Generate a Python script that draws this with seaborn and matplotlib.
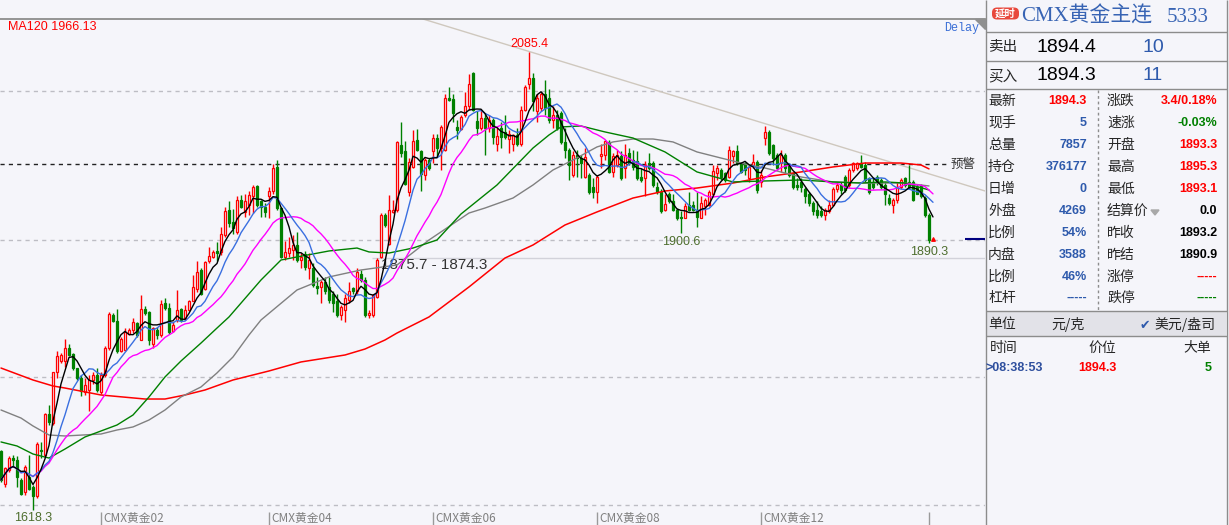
import matplotlib
matplotlib.use("Agg")
import matplotlib.pyplot as plt
import numpy as np
import pandas as pd
import seaborn as sns
from matplotlib.patches import FancyBboxPatch, Rectangle, Polygon

# ---------------- data (daily candles, oldest first) ----------------
open_ = [
    1678, 1645, 1659, 1671, 1669, 1649, 1637, 1652, 1642, 1632,
    1679, 1674, 1716, 1707, 1759, 1770, 1770, 1783, 1777, 1763,
    1753, 1739, 1741, 1751, 1756, 1739, 1756, 1783, 1817, 1811,
    1780, 1781, 1798, 1802, 1809, 1792, 1823, 1820, 1788, 1802,
    1797, 1829, 1824, 1801, 1812, 1823, 1813, 1822, 1831, 1844,
    1863, 1844, 1872, 1876, 1882, 1881, 1899, 1924, 1912, 1902,
    1934, 1922, 1929, 1938, 1949, 1933, 1927, 1938, 1944, 1968,
    1926, 1876, 1880, 1883, 1888, 1873, 1879, 1865, 1865, 1847,
    1846, 1851, 1846, 1839, 1831, 1817, 1822, 1832, 1845, 1842,
    1859, 1853, 1817, 1817, 1835, 1876, 1919, 1890, 1922, 1924,
    1990, 1984, 1943, 1968, 1996, 1984, 1960, 1975, 1984, 1998,
    1987, 1985, 2038, 2037, 2009, 2007, 2021, 2030, 2064, 2015,
    2008, 2018, 2008, 2016, 1992, 2008, 2004, 1997, 1991, 2001,
    1991, 2026, 2053, 2059, 2025, 2028, 2042, 2038, 2016, 2021,
    2023, 1994, 1985, 1960, 1980, 1977, 1958, 1960, 1948, 1943,
    1979, 1980, 1994, 1963, 1970, 1979, 1967, 1982, 1975, 1974,
    1958, 1957, 1972, 1972, 1948, 1943, 1924, 1941, 1933, 1924,
    1917, 1916, 1929, 1929, 1924, 1916, 1928, 1929, 1940, 1962,
    1965, 1962, 1958, 1979, 1984, 1972, 1972, 1957, 1970, 1973,
    1953, 1998, 2004, 1990, 1980, 1972, 1980, 1970, 1962, 1950,
    1953, 1946, 1940, 1931, 1924, 1923, 1919, 1923, 1929, 1946,
    1950, 1958, 1950, 1965, 1967, 1972, 1970, 1957, 1953, 1958,
    1955, 1950, 1936, 1929, 1934, 1948, 1957, 1953, 1953, 1948,
    1949, 1936, 1919, 1893.3,
]
high = [
    1679, 1662, 1673, 1674, 1673, 1651, 1664, 1674, 1644, 1688,
    1688, 1717, 1725, 1759, 1780, 1778, 1793, 1788, 1778, 1763,
    1756, 1753, 1756, 1759, 1763, 1759, 1785, 1820, 1819, 1823,
    1795, 1804, 1804, 1814, 1810, 1838, 1826, 1821, 1805, 1805,
    1832, 1834, 1829, 1810, 1843, 1824, 1827, 1832, 1858, 1872,
    1865, 1872, 1886, 1883, 1892, 1907, 1927, 1933, 1925, 1938,
    1939, 1941, 1944, 1950, 1950, 1934, 1931, 1948, 1971, 1975,
    1927, 1893, 1897, 1899, 1902, 1880, 1882, 1880, 1870, 1856,
    1853, 1856, 1856, 1842, 1839, 1827, 1839, 1851, 1846, 1865,
    1863, 1856, 1822, 1839, 1875, 1921, 1921, 1939, 1934, 1995,
    2014, 1995, 1977, 2006, 2007, 1985, 1977, 1977, 2002, 2002,
    2011, 2043, 2050, 2043, 2016, 2021, 2045, 2063, 2065, 2025,
    2026, 2023, 2021, 2018, 2009, 2014, 2021, 2006, 2002, 2008,
    2030, 2052, 2085.4, 2064, 2042, 2045, 2057, 2048, 2030, 2026,
    2025, 2008, 1987, 1984, 1985, 1980, 1987, 1962, 1957, 1960,
    1991, 1996, 1996, 1982, 1985, 1984, 1991, 1987, 1985, 1984,
    1967, 1974, 1982, 1974, 1953, 1946, 1941, 1943, 1941, 1926,
    1923, 1931, 1943, 1933, 1943, 1938, 1936, 1945, 1970, 1970,
    1967, 1963, 1989, 1985, 1990, 1973, 1973, 1970, 1981, 1975,
    1965, 2010, 2006, 1992, 1982, 1985, 1982, 1972, 1963, 1957,
    1957, 1948, 1943, 1933, 1933, 1928, 1926, 1934, 1948, 1953,
    1953, 1960, 1967, 1973, 1973, 1980, 1973, 1958, 1957, 1960,
    1957, 1953, 1940, 1936, 1953, 1957, 1958, 1970, 1955, 1951,
    1951, 1938, 1921, 1895.3,
]
low = [
    1647, 1642, 1657, 1662, 1642, 1634, 1634, 1639, 1618.3, 1630,
    1671, 1673, 1705, 1705, 1753, 1768, 1764, 1775, 1761, 1751,
    1734, 1736, 1719, 1747, 1739, 1737, 1754, 1781, 1810, 1778,
    1779, 1780, 1797, 1799, 1795, 1792, 1817, 1787, 1783, 1793,
    1795, 1822, 1798, 1800, 1810, 1810, 1812, 1821, 1831, 1841,
    1838, 1843, 1870, 1875, 1872, 1878, 1897, 1907, 1900, 1900,
    1926, 1917, 1919, 1921, 1927, 1917, 1917, 1916, 1941, 1924,
    1875, 1873, 1876, 1873, 1871, 1865, 1863, 1854, 1846, 1839,
    1829, 1839, 1829, 1820, 1815, 1812, 1810, 1829, 1839, 1839,
    1851, 1815, 1814, 1815, 1834, 1875, 1907, 1888, 1921, 1922,
    1978, 1950, 1938, 1967, 1984, 1944, 1955, 1965, 1972, 1978,
    1965, 1984, 2035, 2014, 1997, 2006, 2019, 2026, 2025, 2001,
    2006, 1980, 2004, 1991, 1984, 1987, 1997, 1982, 1984, 1989,
    1989, 2025, 2048, 2025, 2014, 2025, 2021, 2013, 2008, 2006,
    1992, 1977, 1955, 1958, 1958, 1957, 1957, 1941, 1936, 1931,
    1967, 1975, 1962, 1958, 1968, 1955, 1957, 1970, 1965, 1955,
    1953, 1938, 1965, 1948, 1941, 1921, 1923, 1931, 1923, 1914,
    1900.6, 1916, 1923, 1923, 1907, 1916, 1919, 1928, 1938, 1955,
    1955, 1953, 1957, 1972, 1970, 1962, 1960, 1953, 1967, 1942,
    1948, 1990, 1980, 1970, 1965, 1963, 1962, 1958, 1946, 1945,
    1943, 1931, 1928, 1919, 1916, 1917, 1914, 1921, 1928, 1943,
    1940, 1943, 1948, 1963, 1965, 1967, 1953, 1941, 1946, 1950,
    1946, 1929, 1929, 1921, 1931, 1946, 1948, 1946, 1933, 1940,
    1936, 1917, 1890.3, 1893.1,
]
close = [
    1649, 1661, 1671, 1669, 1652, 1635, 1662, 1640, 1632, 1686,
    1678, 1716, 1708, 1759, 1775, 1776, 1783, 1776, 1763, 1753,
    1740, 1746, 1751, 1756, 1741, 1756, 1783, 1818, 1811, 1780,
    1793, 1800, 1802, 1810, 1797, 1823, 1819, 1792, 1804, 1797,
    1828, 1824, 1800, 1807, 1822, 1812, 1822, 1831, 1846, 1861,
    1839, 1871, 1877, 1881, 1880, 1900, 1923, 1911, 1906, 1934,
    1927, 1933, 1939, 1948, 1929, 1927, 1922, 1944, 1967, 1926,
    1876, 1881, 1885, 1888, 1873, 1876, 1866, 1873, 1848, 1845,
    1851, 1842, 1832, 1829, 1817, 1825, 1834, 1842, 1842, 1861,
    1853, 1817, 1819, 1837, 1873, 1919, 1909, 1924, 1924, 1994,
    1982, 1951, 1973, 1995, 1985, 1961, 1975, 1967, 1998, 1987,
    2009, 2038, 2036, 2023, 2006, 2019, 2030, 2053, 2026, 2008,
    2018, 2008, 2016, 1999, 2000, 1999, 1999, 2002, 2001, 1991,
    2026, 2050, 2059, 2035, 2038, 2042, 2028, 2016, 2021, 2008,
    1994, 1985, 1970, 1980, 1977, 1972, 1978, 1943, 1943, 1958,
    1981, 1995, 1963, 1979, 1980, 1957, 1980, 1972, 1968, 1957,
    1955, 1970, 1967, 1950, 1943, 1923, 1930, 1933, 1924, 1916,
    1916, 1928, 1924, 1924, 1917, 1931, 1934, 1943, 1964, 1967,
    1958, 1955, 1985, 1984, 1972, 1963, 1965, 1968, 1973, 1945,
    1960, 2004, 1982, 1977, 1967, 1980, 1967, 1960, 1948, 1948,
    1948, 1938, 1931, 1923, 1919, 1919, 1924, 1929, 1946, 1950,
    1945, 1945, 1965, 1972, 1972, 1968, 1955, 1943, 1948, 1953,
    1948, 1940, 1931, 1934, 1948, 1955, 1950, 1948, 1934, 1941,
    1938, 1919, 1893.2, 1894.3,
]

# long moving averages (need history before the window)
ma60_idx = [0, 4, 8, 12, 16, 21, 25, 29, 33, 37, 41, 45, 50, 54, 57, 65, 70, 74, 82, 89,
            92, 97, 103, 109, 115, 124, 133, 137, 140, 145, 151, 158, 166, 174, 183, 191,
            200, 208, 215, 221, 226, 232]
ma60_val = [1687.6, 1683.5, 1675.3, 1671.2, 1680.4, 1692.7, 1698.8, 1704.9, 1715.1, 1733.5,
            1753.9, 1770.2, 1788.5, 1803.8, 1815.1, 1852.8, 1873.2, 1876.3, 1882.4, 1885.4,
            1881.4, 1880.3, 1885.4, 1893.6, 1920.1, 1949.7, 1987.4, 2000.7, 2008.9, 2009.9,
            2003.8, 1997.6, 1983.4, 1963.0, 1952.8, 1953.8, 1954.8, 1952.8, 1951.7, 1952.8,
            1951.7, 1944.6]
ma90_idx = [0, 5, 8, 12, 16, 25, 29, 33, 37, 41, 45, 50, 54, 58, 62, 65, 74, 82, 90, 99,
            107, 117, 121, 128, 133, 138, 143, 149, 153, 158, 163, 168, 174, 180, 187, 191,
            200, 208, 216, 226, 232]
ma90_val = [1720.2, 1712.0, 1703.9, 1694.7, 1693.7, 1695.7, 1699.8, 1702.9, 1710.0, 1720.2,
            1733.5, 1743.7, 1758.0, 1774.3, 1796.7, 1812.0, 1842.6, 1855.9, 1863.0, 1868.1,
            1893.6, 1921.1, 1926.2, 1936.4, 1949.7, 1965.0, 1975.2, 1988.5, 1993.6, 1996.6,
            1996.6, 1993.6, 1983.4, 1977.2, 1970.1, 1967.0, 1957.9, 1952.8, 1951.7, 1951.7,
            1948.7]
ma120_idx = [0, 8, 13, 16, 25, 36, 41, 46, 51, 58, 67, 75, 86, 91, 96, 99, 107, 117, 126,
             133, 141, 149, 158, 166, 174, 183, 191, 200, 208, 216, 225, 230, 232]
ma120_val = [1763.0, 1750.8, 1744.7, 1742.6, 1735.5, 1731.4, 1731.4, 1735.5, 1740.6, 1750.8,
             1760.0, 1769.2, 1776.3, 1782.4, 1791.6, 1798.7, 1815.1, 1845.7, 1875.2, 1888.5,
             1908.9, 1922.2, 1936.4, 1943.6, 1946.6, 1951.7, 1957.9, 1963.0, 1968.1, 1972.1,
             1972.1, 1970.1, 1966.13]

contract_pos = [25, 67, 108, 149, 190]
contract_labels = ["CMX黄金02", "CMX黄金04", "CMX黄金06", "CMX黄金08", "CMX黄金12"]
last_tick_pos = 232
grid_levels = [2045.6, 1893.6, 1753.9, 1623.3]
alert_level = 1971.1
support_level = 1875.7
last_price = 1894.3
trend_idx = [105.5, 246]
trend_val = [2119.0, 1943.6]

# quote panel
left_labels = ["最新", "现手", "总量", "持仓", "日增", "外盘", "比例", "内盘", "比例", "杠杆"]
left_values = ["1894.3", "5", "7857", "376177", "0", "4269", "54%", "3588", "46%", "-----"]
left_kinds = ["up", "n", "n", "n", "n", "n", "n", "n", "n", "n"]
right_labels = ["涨跌", "速涨", "开盘", "最高", "最低", "结算价", "昨收", "昨结", "涨停", "跌停"]
right_values = ["3.4/0.18%", "-0.03%", "1893.3", "1895.3", "1893.1", "0.0", "1893.2",
                "1890.9", "-----", "-----"]
right_kinds = ["up", "down", "up", "up", "up", "k", "k", "k", "up", "down"]

# ---------------- style ----------------
sns.set_style("white")
plt.rcParams["font.family"] = ["Liberation Sans", "Noto Sans CJK SC", "DejaVu Sans"]
CJK = ["Noto Sans CJK SC", "DejaVu Sans"]

BG = "#F5F5FA"
RED = "#FF0000"
GREEN = "#008000"
NBLUE = "#2E5AAC"
LINE = "#8C8C8C"
kind_color = {"up": RED, "down": GREEN, "n": NBLUE, "k": "black"}

W, H = 1229, 525
fig = plt.figure(figsize=(W / 100, H / 100), dpi=100, facecolor=BG)

# ---------------- candle chart ----------------
ax = fig.add_axes([0, 0, 985 / W, 506 / H])
ax.set_facecolor(BG)

df = pd.DataFrame({"open": open_, "high": high, "low": low, "close": close})
df["idx"] = np.arange(len(df))
up = (df["close"] >= df["open"]).to_numpy()
cols = np.where(up, RED, GREEN)
ax.vlines(df["idx"], df["low"], df["high"], colors=cols, lw=1, zorder=2)
body = (df["close"] - df["open"]).abs().clip(lower=0.6)
bottom = df[["open", "close"]].min(axis=1)
ax.bar(df["idx"], body, bottom=bottom, width=0.72, color=np.where(up, BG, GREEN),
       edgecolor=cols, linewidth=0.9, zorder=3)

df["ma5"] = df["close"].rolling(5, min_periods=1).mean()
df["ma10"] = df["close"].rolling(10, min_periods=1).mean()
df["ma20"] = df["close"].rolling(20, min_periods=1).mean()

sns.lineplot(x=ma120_idx, y=ma120_val, ax=ax, color=RED, lw=1.1, zorder=4)
sns.lineplot(x=ma90_idx, y=ma90_val, ax=ax, color="#808080", lw=1, zorder=4)
sns.lineplot(x=ma60_idx, y=ma60_val, ax=ax, color=GREEN, lw=1, zorder=4)
for col, c in [("ma20", "#FF00FF"), ("ma10", "#3A6FE0"), ("ma5", "black")]:
    sns.lineplot(data=df, x="idx", y=col, ax=ax, color=c, lw=1, zorder=5, estimator=None)

for lv in grid_levels:
    ax.axhline(lv, color="#BDBDC4", lw=1, ls=(0, (3, 3)), zorder=1)
ax.hlines(alert_level, -0.25, 236.8, colors="#222222", lw=1, linestyles=(0, (3, 3)), zorder=1)
ax.hlines(support_level, 92.8, 246, colors="#D2D2DA", lw=1, zorder=1)
ax.hlines(last_price, 241, 246, colors="#000080", lw=1.5, zorder=6)
sns.lineplot(x=trend_idx, y=trend_val, ax=ax, color="#CFC8BE", lw=1, zorder=1)

ax.set_xlim(-0.25, 246)
ax.set_ylim(1602.9, 2119.0)
ax.set_xticks([])
ax.set_yticks([])
ax.set_xlabel("")
ax.set_ylabel("")
for s in ["left", "right", "bottom"]:
    ax.spines[s].set_visible(False)
ax.spines["top"].set_color(LINE)
ax.spines["top"].set_linewidth(1.3)

# annotations
hi_i = int(np.argmax(high))
ax.text(hi_i, high[hi_i] + 8, f"{high[hi_i]:.1f}", color=RED, fontsize=9, ha="center", va="center")
ax.text(170, 1891.6, "1900.6", color="#4E6E2E", fontsize=9, ha="center", va="center")
ax.text(232, 1881.4, f"{low[232]:.1f}", color="#4E6E2E", fontsize=9, ha="center", va="center")
ax.text(8, 1610.0, f"{low[8]:.1f}", color="#4E6E2E", fontsize=9, ha="center", va="center")
ax.text(95, 1868.1, "1875.7 - 1874.3", color="#333333", fontsize=11, ha="left", va="center")
ax.text(240.5, alert_level, "预警", color="#333333", fontsize=9, ha="center", va="center",
        family=CJK)
ax.scatter([233], [last_price], s=6, color=RED, zorder=6, marker="^")

for p, lab in zip(contract_pos, contract_labels):
    ax.vlines(p, 1602.9, 1616, colors="#9A9A9A", lw=1)
    ax.text(p + 0.7, 1610.0, lab, color="#808080", fontsize=8.5, ha="left", va="center",
            family=CJK)
ax.vlines(last_tick_pos, 1602.9, 1616, colors="#9A9A9A", lw=1)

fig.text(8 / W, 1 - 27 / H, f"MA120 {ma120_val[-1]:.2f}", color=RED, fontsize=9, va="center")
fig.text(944 / W, 1 - 28 / H, "Delay", color="#3B6FD6", fontsize=8.5, va="center",
         family="Liberation Mono")
fig.patches.append(Polygon([[975 / W, 1 - 19 / H], [985 / W, 1 - 19 / H], [985 / W, 1 - 29 / H]],
                           closed=True, transform=fig.transFigure, color="#909090"))

# ---------------- quote panel ----------------
pax = fig.add_axes([985 / W, 0, 244 / W, 1])
pax.set_xlim(985, 1229)
pax.set_ylim(525, 0)
pax.axis("off")

pax.add_patch(Rectangle((986, 311.5), 240, 24.5, facecolor="#E2E2E8", edgecolor="none"))
pax.vlines([985.5, 1226.5], 0, 525, colors=LINE, lw=1)
for yy in [32, 61, 89, 311, 336]:
    pax.hlines(yy, 985.5, 1226.5, colors=LINE, lw=1)
pax.vlines(1097.5, 90, 311, colors=LINE, lw=1, linestyles=(0, (2, 2)))

pax.add_patch(FancyBboxPatch((992, 7.5), 27, 12, boxstyle="round,pad=0,rounding_size=5",
                             facecolor="#E8483C", edgecolor="none"))
pax.text(1005.5, 13.5, "延时", color="white", fontsize=7.5, ha="center", va="center",
         family=CJK, weight="bold")
pax.text(1021, 17, "CMX黄金主连", color="#3864B4", fontsize=15, va="center",
         family=["Liberation Serif", "Noto Sans CJK SC"])
pax.text(1167, 17, "5333", color="#3864B4", fontsize=15, va="center", family="Liberation Serif")

for yy, lab, price, vol in [(47, "卖出", "1894.4", "10"), (76, "买入", "1894.3", "11")]:
    pax.text(988, yy, lab, fontsize=10.5, va="center", family=CJK)
    pax.text(1037, yy, price, fontsize=14, va="center", color="black")
    pax.text(1143, yy, vol, fontsize=14, va="center", color=NBLUE)

row_y = [101, 123, 145, 167, 189, 211, 233, 255, 277, 298]
for yy, l1, v1, k1, l2, v2, k2 in zip(row_y, left_labels, left_values, left_kinds,
                                        right_labels, right_values, right_kinds):
    pax.text(988, yy, l1, fontsize=10, va="center", family=CJK)
    pax.text(1087, yy, v1, fontsize=9, va="center", ha="right", weight="bold",
             color=kind_color[k1])
    pax.text(1107, yy, l2, fontsize=10, va="center", family=CJK)
    pax.text(1217, yy, v2, fontsize=9, va="center", ha="right", weight="bold",
             color=kind_color[k2])
pax.add_patch(Polygon([[1151, 210], [1159, 210], [1155, 215]], closed=True, color="#A8A8A8"))

pax.text(988, 324, "单位", fontsize=10, va="center", family=CJK)
pax.text(1051, 324, "元/克", fontsize=10, va="center", family=CJK)
pax.text(1140, 325, "✔", fontsize=9, va="center", color=NBLUE, family="DejaVu Sans")
pax.text(1154, 324, "美元/盎司", fontsize=10, va="center", family=CJK)

pax.text(990, 348, "时间", fontsize=10, va="center", family=CJK)
pax.text(1088, 348, "价位", fontsize=10, va="center", family=CJK)
pax.text(1183, 348, "大单", fontsize=10, va="center", family=CJK)
pax.text(986, 368, ">08:38:53", fontsize=9, va="center", color="#2E4F9E", weight="bold")
pax.text(1097, 368, "1894.3", fontsize=9, va="center", ha="center", color=RED, weight="bold")
pax.text(1212, 368, "5", fontsize=9, va="center", ha="right", color=GREEN, weight="bold")

fig.savefig("out.png", dpi=100, facecolor=BG)
